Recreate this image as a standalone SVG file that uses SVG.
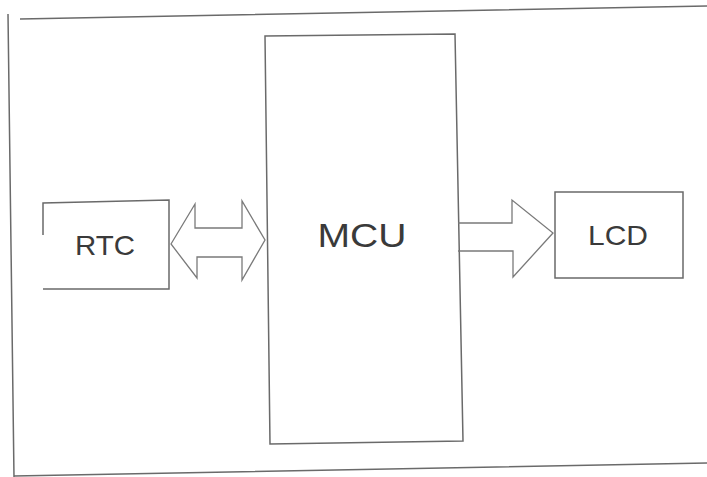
<svg xmlns="http://www.w3.org/2000/svg" width="707" height="477" viewBox="0 0 707 477">
<style>
.ln{fill:none;stroke:#6a6a6a;stroke-width:1.5;stroke-linejoin:miter}
.ar{fill:none;stroke:#7a7a7a;stroke-width:1.3;stroke-linejoin:miter}
.tx{font-family:"Liberation Sans",Arial,sans-serif;fill:#3a3a3a;text-anchor:middle}
</style>
<rect width="707" height="477" fill="#ffffff"/>
<g id="frame">
<path class="ln" d="M20,19 L707,6 M8,14 L14,477 M14,476 L707,463"/>
</g>
<g id="rtc">
<path class="ln" d="M43,235 L43,203 L169,200 L169,289 L43,289"/>
<text class="tx" x="105" y="255" font-size="28" textLength="60" lengthAdjust="spacingAndGlyphs">RTC</text>
</g>
<g id="mcu">
<path class="ln" d="M265,36 L455,34 L463,441 L270,444 Z"/>
<text class="tx" x="362" y="247" font-size="33" textLength="89" lengthAdjust="spacingAndGlyphs">MCU</text>
</g>
<g id="lcd">
<path class="ln" d="M555,192 L683,192 L683,278 L555,278 Z"/>
<text class="tx" x="618" y="245" font-size="28" textLength="60" lengthAdjust="spacingAndGlyphs">LCD</text>
</g>
<g id="connectors">
<path class="ar" d="M171,244 L195,204 L195,228 L242,228 L242,201 L265,240 L242,280 L242,257 L197,257 L197,278 Z"/>
<path class="ar" d="M458,223 L512,223 L512,200 L553,233 L513,277 L513,251 L458,251"/>
</g>
</svg>
